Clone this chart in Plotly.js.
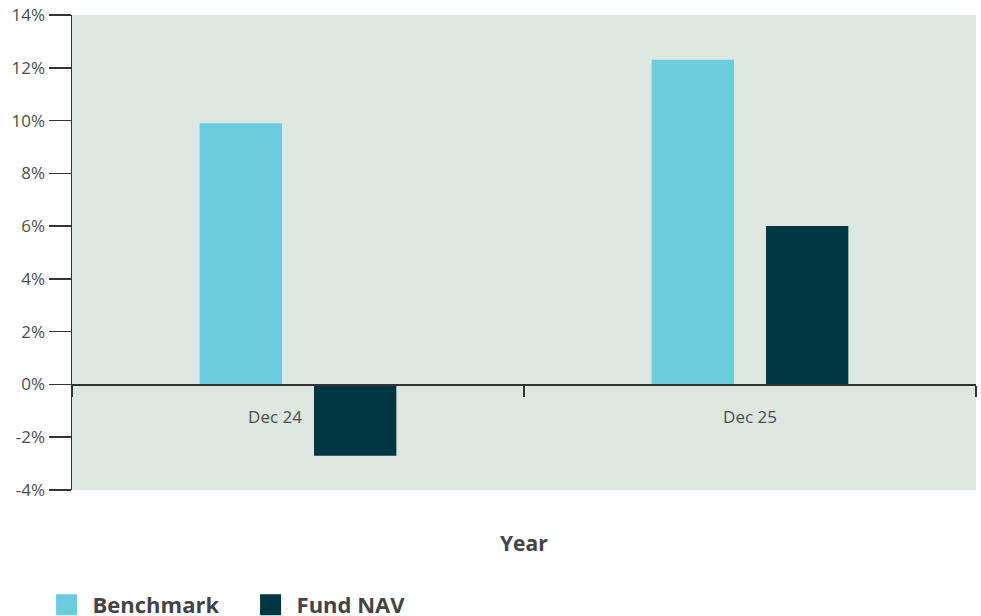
<!DOCTYPE html>
<html>
<head>
<meta charset="utf-8">
<script src="https://cdn.plot.ly/plotly-3.0.1.min.js"></script>
<style>html,body{margin:0;padding:0;background:#fff;}#chart{width:981px;height:616px;}</style>
</head>
<body>
<div id="chart"></div>
<script>
const categories = ["Dec 24", "Dec 25"];
const benchmarkValues = [9.9, 12.3];
const fundNavValues = [-2.7, 6.0];
const seriesNames = ["Benchmark", "Fund NAV"];
const yTickVals = [-4, -2, 0, 2, 4, 6, 8, 10, 12, 14];
const yTickLabels = ["-4%", "-2%", "0%", "2%", "4%", "6%", "8%", "10%", "12%", "14%"];
const yRange = [-4, 14];

const font = "'Open Sans', Lato, sans-serif";
const traces = [
  {type: "bar", name: seriesNames[0], x: categories, y: benchmarkValues,
   marker: {color: "#6BCCDD"}, hoverinfo: "none"},
  {type: "bar", name: seriesNames[1], x: categories, y: fundNavValues,
   marker: {color: "#003641"}, hoverinfo: "none"}
];
const layout = {
  width: 981, height: 616,
  margin: {l: 72, r: 5, t: 15, b: 126, autoexpand: false},
  paper_bgcolor: "#ffffff",
  plot_bgcolor: "#DDE7E2",
  barmode: "group",
  bargap: 0.494,
  bargroupgap: 0.28,
  font: {family: font, color: "#4d4d4d", size: 17},
  xaxis: {
    type: "category",
    anchor: "free",
    position: (0 - yRange[0]) / (yRange[1] - yRange[0]),
    showline: true, linecolor: "#333333", linewidth: 1.5,
    ticks: "outside", tickson: "boundaries", ticklen: 11, tickwidth: 1.5, tickcolor: "#333333",
    ticklabelstandoff: 17,
    showgrid: false, zeroline: false,
    tickfont: {size: 17, color: "#4d4d4d"}
  },
  yaxis: {
    range: yRange,
    tickvals: yTickVals, ticktext: yTickLabels,
    showline: true, linecolor: "#333333", linewidth: 1.5,
    ticks: "outside", ticklen: 22, tickwidth: 1.5, tickcolor: "#333333",
    showgrid: false, zeroline: false,
    tickfont: {size: 17, color: "#4d4d4d"}
  },
  annotations: [{
    text: "<b>Year</b>", xref: "paper", yref: "paper", x: 0.5, y: -0.112,
    xanchor: "center", yanchor: "middle", showarrow: false,
    font: {size: 21, color: "#444444", family: font}
  }],
  showlegend: true,
  legend: {
    orientation: "h", x: -0.0215, xanchor: "left", y: -0.198, yanchor: "top",
    font: {size: 22, color: "#444444", family: font, weight: "bold"},
    entrywidth: 159, traceorder: "normal", bgcolor: "rgba(0,0,0,0)"
  }
};
Plotly.newPlot("chart", traces, layout, {displayModeBar: false, staticPlot: true}).then(function (gd) {
  gd.querySelectorAll(".legend .legendpoints path").forEach(function (p) {
    p.setAttribute("transform", "translate(14,0) scale(1.75)");
  });
  // the first category label sits left of its centre in the reference, clear of the negative bar
  const firstTick = gd.querySelector(".xaxislayer-above .xtick text");
  if (firstTick) {
    const g = firstTick.parentNode;
    g.setAttribute("transform", "translate(-23,0)");
  }
});
</script>
</body>
</html>
